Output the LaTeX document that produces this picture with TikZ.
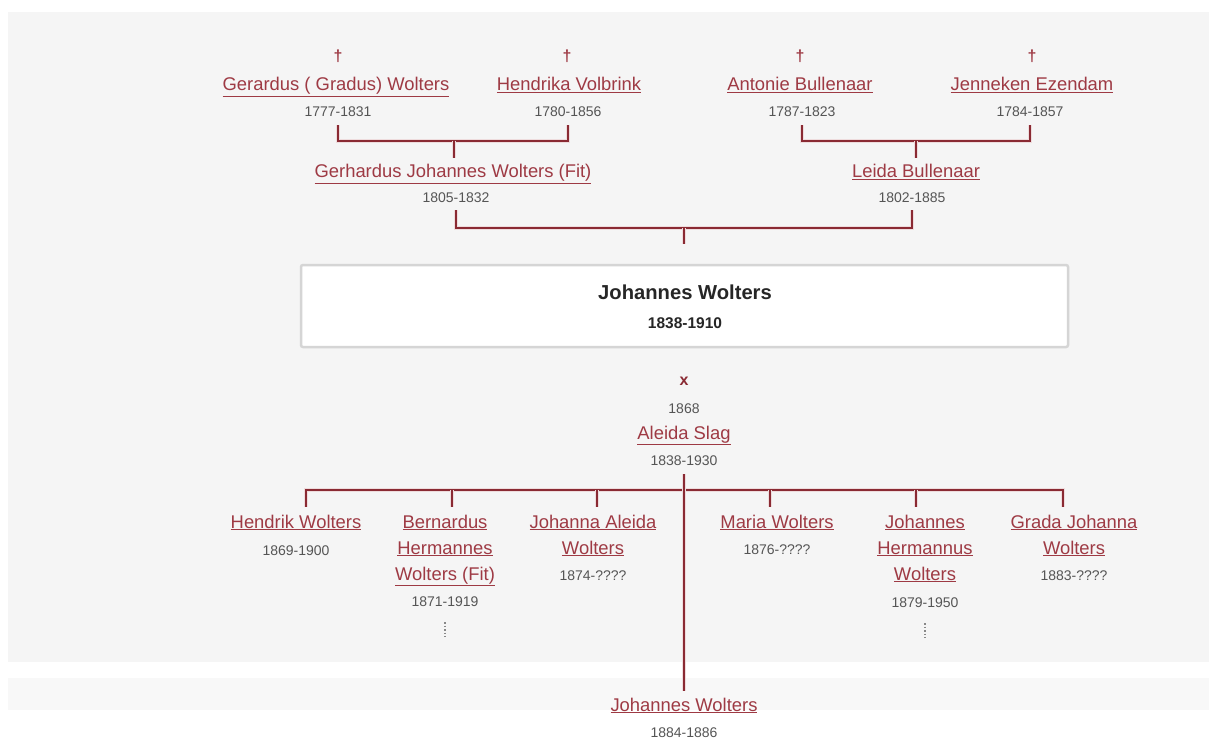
\documentclass[tikz,border=0pt]{standalone}
\usepackage{fontspec}
\setmainfont{Liberation Sans}
\definecolor{linkred}{HTML}{9E3A44}
\definecolor{linecol}{HTML}{8A2A33}
\definecolor{yeargray}{HTML}{555555}
\definecolor{bgA}{HTML}{F5F5F5}
\definecolor{bgB}{HTML}{F8F8F8}
\definecolor{boxedge}{HTML}{D5D5D5}
\definecolor{titlecol}{HTML}{262626}
\newcommand{\nm}[1]{\underline{#1}}
\begin{document}
\begin{tikzpicture}[x=1pt,y=-1pt,
  pname/.style={inner sep=0pt, anchor=base, text=linkred, font=\fontsize{18.4}{26}\selectfont},
  kname/.style={inner sep=0pt, anchor=north, align=center, text=linkred, font=\fontsize{18.4}{26}\selectfont},
  pyear/.style={inner sep=0pt, anchor=base, text=yeargray, font=\fontsize{14}{16}\selectfont},
  dagger/.style={inner sep=0pt, text=linkred, font=\fontsize{16}{18}\selectfont\bfseries},
  conn/.style={draw=linecol, line width=2.4pt, preaction={draw=linkred!18, line width=4.5pt}},
  more/.style={draw=yeargray!70, line width=1.4pt, dotted}]

\useasboundingbox (0,0) rectangle (1209,738);
\fill[bgA] (8,12) rectangle (1209,662);
\fill[bgB] (8,678) rectangle (1209,710);

% grandparents
\node[dagger] (c1) at (338,56) {†};
\node[dagger] (c2) at (567,56) {†};
\node[dagger] (c3) at (800,56) {†};
\node[dagger] (c4) at (1032,56) {†};
\node[pname] (p1) at (336,91) {\nm{Gerardus ( Gradus) Wolters}};
\node[pname] (p2) at (569,91) {\nm{Hendrika Volbrink}};
\node[pname] (p3) at (800,91) {\nm{Antonie Bullenaar}};
\node[pname] (p4) at (1032,91) {\nm{Jenneken Ezendam}};
\node[pyear] (p1y) at (338,117) {1777-1831};
\node[pyear] (p2y) at (568,117) {1780-1856};
\node[pyear] (p3y) at (802,117) {1787-1823};
\node[pyear] (p4y) at (1030,117) {1784-1857};

% parents
\node[pname] (g) at (453,178) {\nm{Gerhardus Johannes Wolters (Fit)}};
\node[pyear] (gy) at (456,203) {1805-1832};
\node[pname] (l) at (916,178) {\nm{Leida Bullenaar}};
\node[pyear] (ly) at (912,203) {1802-1885};

\coordinate (ja) at (454,141);
\coordinate (jb) at (916,141);
\coordinate (jc) at (684,228);
\draw[conn] ([yshift=-8pt]p1y.south) |- (ja) -| ([yshift=-8pt]p2y.south);
\draw[conn] (ja) -- ([yshift=6.5pt]ja |- g.north);
\draw[conn] ([yshift=-8pt]p3y.south) |- (jb) -| ([yshift=-8pt]p4y.south);
\draw[conn] (jb) -- ([yshift=6.5pt]jb |- l.north);

% main person
\node[draw=boxedge, line width=2.5pt, fill=white, rounded corners=2pt,
      minimum width=767pt, minimum height=82pt, inner sep=0pt] (mainbox) at (684.5,306) {};
\node[inner sep=0pt, anchor=base, text=titlecol, font=\fontsize{20.2}{24}\selectfont\bfseries] (jw) at (685,299) {Johannes Wolters};
\node[inner sep=0pt, anchor=base, text=titlecol, font=\fontsize{15.5}{18}\selectfont\bfseries] (jwy) at (685,328) {1838-1910};

\draw[conn] ([yshift=-7pt]gy.south) |- (jc) -| ([yshift=-7pt]ly.south);
\draw[conn] (jc) -- ([yshift=20pt]jc |- mainbox.north);

% spouse
\node[inner sep=0pt, text=linecol, font=\fontsize{16}{18}\selectfont\bfseries] (mx) at (684,381) {x};
\node[pyear] (my) at (684,413) {1868};
\node[pname] (sp) at (684,439) {\nm{Aleida Slag}};
\node[pyear] (spy) at (684,465) {1838-1930};

% children
\node[kname] (kid1) at (296,514.5) {\nm{Hendrik Wolters}};
\node[pyear] (ky1) at (296,555) {1869-1900};
\node[kname] (kid2) at (445,514.5) {\nm{Bernardus}\\\nm{Hermannes}\\\nm{Wolters (Fit)}};
\node[pyear] (ky2) at (445,606) {1871-1919};
\node[kname] (kid3) at (593,514.5) {\nm{Johanna Aleida}\\\nm{Wolters}};
\node[pyear] (ky3) at (593,580) {1874-????};
\node[kname] (kid4) at (777,514.5) {\nm{Maria Wolters}};
\node[pyear] (ky4) at (777,554) {1876-????};
\node[kname] (kid5) at (925,514.5) {\nm{Johannes}\\\nm{Hermannus}\\\nm{Wolters}};
\node[pyear] (ky5) at (925,607) {1879-1950};
\node[kname] (kid6) at (1074,514.5) {\nm{Grada Johanna}\\\nm{Wolters}};
\node[pyear] (ky6) at (1074,580) {1883-????};
\node[pname] (kid7) at (684,711) {\nm{Johannes Wolters}};
\node[pyear] (ky7) at (684,737) {1884-1886};

\coordinate (k1) at (306,490);
\coordinate (k2) at (452,490);
\coordinate (k3) at (597,490);
\coordinate (k4) at (770,490);
\coordinate (k5) at (916,490);
\coordinate (k6) at (1063,490);

\draw[conn] ([yshift=8pt]k1 |- kid1.north) -- (k1) -- (k6) -- ([yshift=8pt]k6 |- kid6.north);
\draw[conn] (k2) -- ([yshift=8pt]k2 |- kid2.north);
\draw[conn] (k3) -- ([yshift=8pt]k3 |- kid3.north);
\draw[conn] (k4) -- ([yshift=8pt]k4 |- kid4.north);
\draw[conn] (k5) -- ([yshift=8pt]k5 |- kid5.north);
\draw[conn] ([yshift=-9pt]spy.south) -- ([yshift=6pt]spy.south |- kid7.north);

\draw[more] ([yshift=-16pt]ky2.south) -- ++(0,16);
\draw[more] ([yshift=-16pt]ky5.south) -- ++(0,16);
\end{tikzpicture}
\end{document}
